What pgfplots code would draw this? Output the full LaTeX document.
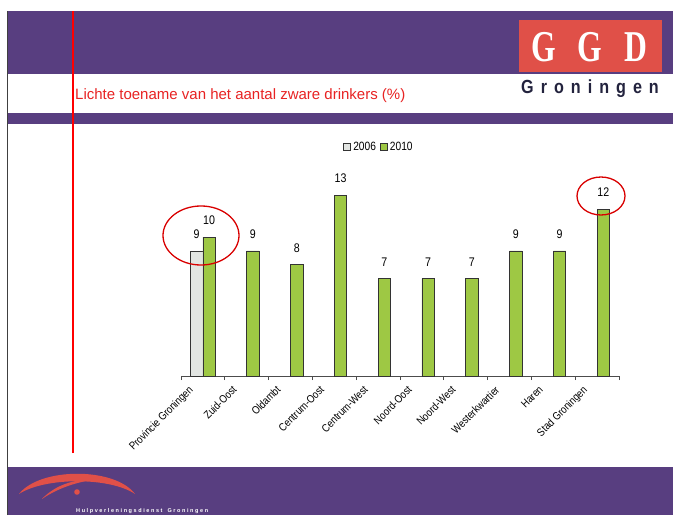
\documentclass[border=0pt]{standalone}
\usepackage{fontspec}
\setmainfont{Liberation Sans}
\newfontfamily\narrow[FakeStretch=0.85]{Liberation Sans}
\newfontfamily\ggdfont[FakeStretch=0.72]{Liberation Serif}
\usepackage{pgfplots}
\pgfplotsset{compat=1.18}
\definecolor{slidepurple}{RGB}{88,62,128}
\definecolor{ggdred}{RGB}{224,80,72}
\definecolor{titlered}{RGB}{232,35,35}
\definecolor{navy}{RGB}{35,35,62}
\definecolor{bargreen}{RGB}{158,200,68}
\definecolor{bargray}{RGB}{226,229,226}
\begin{document}
\begin{tikzpicture}[x=1pt,y=1pt]
\useasboundingbox (0,0) rectangle (673,515);
\fill[white] (0,0) rectangle (673,515);
% slide background
\fill[slidepurple] (7,441) rectangle (673,504);
\fill[slidepurple] (7,391) rectangle (673,402);
\fill[slidepurple] (7,0) rectangle (673,48);
\draw[black!75, line width=1pt] (7,0) -- (7,504);
\draw[red, line width=1.1pt] (73,62) -- (73,504);
% GGD logo
\fill[ggdred] (519,443) rectangle (662,495);
\node[white, font=\ggdfont\bfseries\fontsize{44}{44}\selectfont] at (544,468) {G};
\node[white, font=\ggdfont\bfseries\fontsize{44}{44}\selectfont] at (590,468) {G};
\node[white, font=\ggdfont\bfseries\fontsize{44}{44}\selectfont] at (636,468) {D};
\node[navy, anchor=base west, inner sep=0pt, font=\narrow\bfseries\fontsize{19}{19}\selectfont] at (521,421)
  {G\kern7pt r\kern7pt o\kern7pt n\kern7pt i\kern7pt n\kern7pt g\kern7pt e\kern7pt n};
% title
\node[titlered, anchor=base west, inner sep=0pt, font=\fontsize{15}{15}\selectfont] at (75,415)
  {Lichte toename van het aantal zware drinkers (\%)};
% footer logo
\fill[ggdred] (19,21) .. controls (40,48) and (115,48) .. (135,21) .. controls (110,38) and (45,38) .. cycle;
\fill[ggdred] (42,16) .. controls (55,30) and (75,36) .. (91,35) .. controls (75,32) and (58,27) .. cycle;
\fill[ggdred] (77,23) circle (2.8pt);
\node[white, anchor=base west, inner sep=0pt, font=\bfseries\fontsize{5.5}{6}\selectfont] at (76,3)
  {H\kern1.6pt u\kern1.6pt l\kern1.6pt p\kern1.6pt v\kern1.6pt e\kern1.6pt r\kern1.6pt l\kern1.6pt e\kern1.6pt n\kern1.6pt i\kern1.6pt n\kern1.6pt g\kern1.6pt s\kern1.6pt d\kern1.6pt i\kern1.6pt e\kern1.6pt n\kern1.6pt s\kern1.6pt t\kern5pt G\kern1.6pt r\kern1.6pt o\kern1.6pt n\kern1.6pt i\kern1.6pt n\kern1.6pt g\kern1.6pt e\kern1.6pt n};
% chart
\begin{axis}[
  at={(181pt,139pt)}, anchor=south west,
  scale only axis, width=438pt, height=201.55pt,
  xmin=-0.5, xmax=9.5, ymin=0, ymax=14.5,
  axis x line*=bottom, axis y line=none,
  axis line style={black!70, line width=0.8pt},
  xtick={0,...,9},
  xticklabels={Provincie Groningen,Zuid-Oost,Oldambt,Centrum-Oost,Centrum-West,Noord-Oost,Noord-West,Westerkwartier,Haren,Stad Groningen},
  major tick length=0pt,
  minor xtick={-0.5,0.5,1.5,2.5,3.5,4.5,5.5,6.5,7.5,8.5,9.5},
  minor tick length=4pt, tick align=outside,
  minor tick style={black!70, line width=0.8pt},
  xticklabel style={xshift=-15pt, yshift=-7.5pt, rotate=45, anchor=north east, inner sep=1pt, font=\narrow\fontsize{11}{12}\selectfont},
  ybar, bar width=12.5pt,
  /pgf/number format/assume math mode=true,
  nodes near coords,
  every node near coord/.append style={font=\narrow\fontsize{12.5}{12.5}\selectfont, black, yshift=8.5pt},
  clip=false,
  legend style={at={(0.452,1.135)}, anchor=center, draw=none, fill=none, legend columns=-1,
    font=\narrow\fontsize{12}{12}\selectfont,
    /tikz/every even column/.append style={column sep=2pt}},
  legend image code/.code={\draw[#1, line width=0.8pt] (0pt,-3.6pt) rectangle (7.2pt,3.6pt);},
]
\addplot[fill=bargray, draw=black!80, line width=0.8pt, bar shift=-6.25pt] coordinates {(0,9)};
\addplot[fill=bargreen, draw=black!80, line width=0.8pt, bar shift=6.25pt] coordinates {
  (0,10) (1,9) (2,8) (3,13) (4,7) (5,7) (6,7) (7,9) (8,9) (9,12)};
\legend{2006,2010}
\end{axis}
% annotations
\draw[red!85!black, line width=1.3pt] (201,279.5) ellipse [x radius=38pt, y radius=29.5pt];
\draw[red!85!black, line width=1.3pt] (601,319) ellipse [x radius=24pt, y radius=19pt];
\end{tikzpicture}
\end{document}
